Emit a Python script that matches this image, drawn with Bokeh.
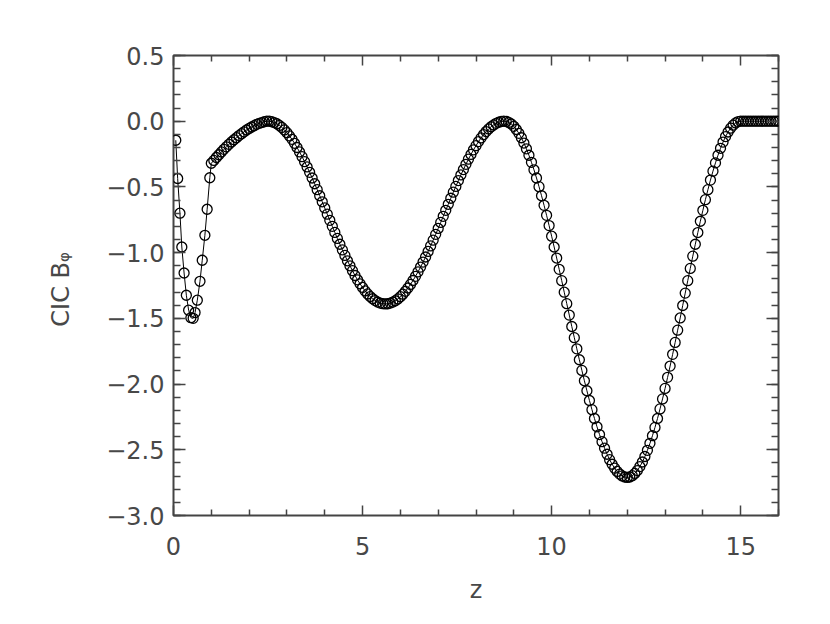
from bokeh.plotting import figure
from bokeh.models import Range1d, FixedTicker, CustomJSTickFormatter, LinearAxis
from bokeh.embed import file_html
from bokeh.resources import INLINE

# ---- data ----
# inner region (z < 1): sparse points
z_inner = [0.06, 0.11, 0.17, 0.22, 0.28, 0.34, 0.40, 0.46, 0.52, 0.57,
           0.63, 0.70, 0.76, 0.83, 0.89, 0.96]
b_inner = [-0.145, -0.436, -0.70, -0.957, -1.155, -1.324, -1.438, -1.495,
           -1.50, -1.456, -1.362, -1.218, -1.058, -0.868, -0.67, -0.43]

# outer region (z >= 1), sampled every 1/15
z_outer_start = 1.0
z_outer_step = 1.0 / 15.0
b_outer = [
    -0.320, -0.298, -0.276, -0.255, -0.234, -0.214, -0.195, -0.176, -0.158, -0.141,
    -0.125, -0.109, -0.095, -0.081, -0.067, -0.055, -0.044, -0.034, -0.024, -0.016,
    -0.010, -0.004, 0.000,
    -0.000, -0.004, -0.010, -0.019, -0.032, -0.047, -0.066, -0.087, -0.112, -0.138,
    -0.168, -0.200, -0.234, -0.270, -0.308, -0.348, -0.389, -0.432, -0.476, -0.521,
    -0.567, -0.613, -0.660, -0.707, -0.754, -0.800, -0.846, -0.892, -0.936, -0.979,
    -1.021, -1.062, -1.100, -1.137, -1.174, -1.207, -1.237, -1.265, -1.291, -1.314,
    -1.334, -1.351, -1.365, -1.376, -1.384, -1.388, -1.390,
    -1.389, -1.384, -1.376, -1.366, -1.352, -1.335, -1.316, -1.294, -1.269, -1.242,
    -1.212, -1.180, -1.146, -1.110, -1.072, -1.033, -0.991, -0.949, -0.905, -0.861,
    -0.816, -0.770, -0.724, -0.678, -0.632, -0.586, -0.540, -0.496, -0.452, -0.409,
    -0.368, -0.328, -0.289, -0.253, -0.218, -0.186, -0.155, -0.127, -0.102, -0.079,
    -0.059, -0.042, -0.028, -0.016, -0.008, -0.002, -0.000,
    -0.002, -0.009, -0.021, -0.039, -0.063, -0.092, -0.126, -0.166, -0.210, -0.259,
    -0.313, -0.370, -0.432, -0.498, -0.567, -0.640, -0.716, -0.794, -0.875, -0.957,
    -1.041, -1.127, -1.213, -1.301, -1.388, -1.475, -1.562, -1.647, -1.732, -1.815,
    -1.896, -1.975, -2.051, -2.125, -2.195, -2.262, -2.325, -2.384, -2.438, -2.488,
    -2.534, -2.575, -2.610, -2.640, -2.665, -2.685, -2.699, -2.707, -2.710,
    -2.707, -2.697, -2.680, -2.658, -2.628, -2.593, -2.551, -2.504, -2.451, -2.393,
    -2.330, -2.262, -2.189, -2.113, -2.033, -1.949, -1.863, -1.774, -1.683, -1.590,
    -1.497, -1.402, -1.308, -1.213, -1.120, -1.027, -0.936, -0.847, -0.761, -0.678,
    -0.597, -0.521, -0.448, -0.380, -0.317, -0.259, -0.206, -0.159, -0.117, -0.082,
    -0.053, -0.030, -0.013, -0.003, 0.000,
    0.0, 0.0, 0.0, 0.0, 0.0, 0.0, 0.0, 0.0, 0.0, 0.0, 0.0, 0.0, 0.0, 0.0, 0.0,
]
z_outer = [z_outer_start + i * z_outer_step for i in range(len(b_outer))]

x_major = [0, 5, 10, 15]
x_minor = [1, 2, 3, 4, 6, 7, 8, 9, 11, 12, 13, 14, 16]
y_major = [-3.0, -2.5, -2.0, -1.5, -1.0, -0.5, 0.0, 0.5]
y_minor = [round(-3.0 + 0.1 * i, 1) for i in range(36)]

z_all = z_inner + z_outer
b_all = b_inner + b_outer

FONT = "DejaVu Sans"
TXT = "#484848"
AX = "#444444"

p = figure(width=822, height=616, x_range=Range1d(0, 16), y_range=Range1d(-3.0, 0.5),
           output_backend="svg", toolbar_location=None,
           min_border_left=173, min_border_right=44, min_border_top=55, min_border_bottom=101)
p.grid.visible = False
p.outline_line_color = AX
p.outline_line_width = 2
p.background_fill_color = "white"
p.border_fill_color = "white"

p.line(z_all, b_all, line_color="black", line_width=1)
p.scatter(z_all, b_all, marker="circle", size=10, fill_color=None, line_color="black", line_width=1.3)

xt = FixedTicker(ticks=x_major, minor_ticks=x_minor)
yt = FixedTicker(ticks=y_major, minor_ticks=y_minor)

blank = CustomJSTickFormatter(code="return '';")
yfmt = CustomJSTickFormatter(code="return tick.toFixed(1).replace('-', '\\u2212');")

def style(ax, ticker, tin, mtin):
    ax.ticker = ticker
    ax.axis_line_color = None
    ax.major_tick_in = tin
    ax.major_tick_out = 0
    ax.minor_tick_in = mtin
    ax.minor_tick_out = 0
    ax.major_tick_line_color = AX
    ax.minor_tick_line_color = AX
    ax.major_tick_line_width = 1.5
    ax.minor_tick_line_width = 1.5
    ax.major_label_text_font = FONT
    ax.major_label_text_font_size = "24px"
    ax.major_label_text_color = TXT
    ax.axis_label_text_font = FONT
    ax.axis_label_text_font_size = "24px"
    ax.axis_label_text_color = TXT
    ax.axis_label_text_font_style = "normal"

xa = p.xaxis[0]
style(xa, xt, 10, 6)
xa.major_label_standoff = 21
xa.axis_label = "z"
xa.axis_label_standoff = 18

ya = p.yaxis[0]
style(ya, yt, 12, 7)
ya.formatter = yfmt
ya.major_label_standoff = 9
ya.axis_label = "CIC  B\u1d69"
ya.axis_label_standoff = 28

top = LinearAxis(formatter=blank)
style(top, xt, 10, 6)
top.major_label_standoff = 0
p.add_layout(top, "above")

right = LinearAxis(formatter=blank)
style(right, yt, 12, 7)
right.major_label_standoff = 0
p.add_layout(right, "right")

open("out.html", "w").write(file_html(p, INLINE))
